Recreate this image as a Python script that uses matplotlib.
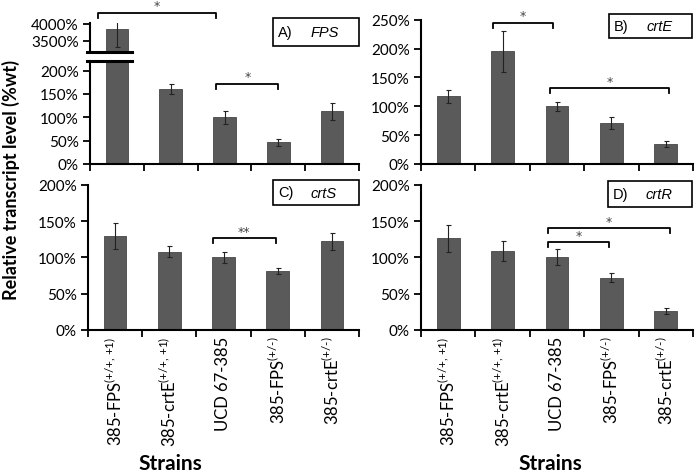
import numpy as np
import matplotlib.pyplot as plt
from matplotlib.patches import Rectangle
import matplotlib.transforms as mtransforms

plt.rcParams['font.family'] = ['Lato', 'DejaVu Sans']
plt.rcParams['mathtext.fontset'] = 'custom'
plt.rcParams['mathtext.rm'] = 'Lato'
plt.rcParams['mathtext.it'] = 'Lato:italic'

# data
strains = ['385-FPS$^{\\text{(+/+, +1)}}$', '385-crtE$^{\\text{(+/+, +1)}}$',
           'UCD 67-385', '385-FPS$^{\\text{(+/-)}}$', '385-crtE$^{\\text{(+/-)}}$']

fps_mean = [3850, 160, 100, 46, 113]
fps_err = [530, 11, 14, 7, 18]

crte_mean = [117, 195, 100, 71, 34]
crte_err = [11, 35, 8, 10, 5]

crts_mean = [129, 108, 100, 81, 122]
crts_err = [18, 7, 8, 4, 12]

crtr_mean = [126, 109, 100, 72, 26]
crtr_err = [19, 14, 11, 6, 4]

# significance brackets: (x start, x end, height, label)
fps_sig = [(-0.35, 1.85, 4330, '*'), (1.85, 3.0, 172, '*')]
crte_sig = [(0.82, 1.93, 245, '*'), (1.87, 4.06, 131, '*')]
crts_sig = [(1.80, 2.97, 126, '**')]
crtr_sig = [(1.83, 2.96, 121, '*'), (1.83, 4.08, 140, '*')]

W, H = 699, 477
fig = plt.figure(figsize=(W / 100, H / 100), dpi=100)


def px_rect(l, r, b, t):
    return [l / W, 1 - b / H, (r - l) / W, (b - t) / H]


BAR = '#5a5a5a'


def setup(ax, ymax, step, labels=False):
    x = np.arange(len(strains))
    ax.set_xlim(-0.5, len(strains) - 0.5)
    ax.set_ylim(0, ymax)
    ax.set_yticks(np.arange(0, ymax + 1, step))
    ax.yaxis.set_major_formatter(lambda v, p: '%d%%' % v)
    for s in ['top', 'right']:
        ax.spines[s].set_visible(False)
    for s in ['left', 'bottom']:
        ax.spines[s].set_linewidth(1.5)
    ax.tick_params(axis='y', length=5, width=1.3, labelsize=11, pad=3)
    ax.set_xticks(x)
    ax.set_xticks(np.arange(-0.5, len(strains)), minor=True)
    ax.tick_params(axis='x', which='major', length=0, pad=4)
    ax.tick_params(axis='x', which='minor', length=5, width=1.3)
    if labels:
        ax.set_xticklabels(strains, rotation=90, fontsize=12, va='top')
    else:
        ax.set_xticklabels([])


def bars(ax, mean, err):
    x = np.arange(len(mean))
    ax.bar(x, mean, width=0.42, color=BAR, edgecolor='#474747', linewidth=0.6)
    ax.errorbar(x, mean, yerr=err, fmt='none', ecolor='#222222',
                elinewidth=0.8, capsize=1.8, capthick=0.8)


def brackets(ax, sig):
    ax_h = ax.get_position().height * H
    lo, hi = ax.get_ylim()
    tick = 5 / ax_h * (hi - lo)
    for x1, x2, y, lab in sig:
        ax.plot([x1, x1, x2, x2], [y - tick, y, y, y - tick], color='black',
                lw=1.3, clip_on=False)
        ax.text((x1 + x2) / 2, y + tick * 0.1, lab, ha='center', va='bottom',
                fontsize=9, color='#444444', family='DejaVu Sans',
                clip_on=False)


def label_box(l, r, t, b, tag, gene):
    fig.add_artist(Rectangle((l / W, 1 - b / H), (r - l) / W, (b - t) / H,
                             transform=fig.transFigure, fill=False,
                             edgecolor='black', lw=1.2))
    yc = 1 - (t + b) / 2 / H
    fig.text((l + 5) / W, yc, tag, ha='left', va='center', fontsize=10.5,
             family='Liberation Sans')
    fig.text((l + 38) / W, yc, gene, ha='left', va='center', fontsize=10.5,
             family='Liberation Sans', style='italic')


# panel A, broken axis
axA = fig.add_axes(px_rect(90, 359, 165, 61.7))
setup(axA, 221, 50)
axA.set_yticks(np.arange(0, 201, 50))
bars(axA, fps_mean, fps_err)
brackets(axA, fps_sig[1:])

axA2 = fig.add_axes(px_rect(90, 359, 52, 24.3))
axA2.set_xlim(-0.5, len(strains) - 0.5)
axA2.set_ylim(3200, 4020)
axA2.set_yticks([3500, 4000])
axA2.yaxis.set_major_formatter(lambda v, p: '%d%%' % v)
for s in ['top', 'right', 'bottom']:
    axA2.spines[s].set_visible(False)
axA2.spines['left'].set_linewidth(1.5)
axA2.tick_params(axis='y', length=5, width=1.3, labelsize=11, pad=3)
axA2.set_xticks([])
bars(axA2, fps_mean, fps_err)
brackets(axA2, fps_sig[:1])

# break marks across the first bar
tr2 = mtransforms.blended_transform_factory(axA2.transData, axA2.transAxes)
trA = mtransforms.blended_transform_factory(axA.transData, axA.transAxes)
axA2.plot([-0.55, 0.28], [-0.02, -0.02], color='black', lw=2.2,
          transform=tr2, clip_on=False)
axA.plot([-0.55, 0.28], [1.0, 1.0], color='black', lw=2.2,
         transform=trA, clip_on=False)

# panel B
axB = fig.add_axes(px_rect(421, 693, 165, 20.7))
setup(axB, 250, 50)
bars(axB, crte_mean, crte_err)
brackets(axB, crte_sig)

# panel C
axC = fig.add_axes(px_rect(88, 359, 331, 185.7))
setup(axC, 200, 50, labels=True)
bars(axC, crts_mean, crts_err)
brackets(axC, crts_sig)

# panel D
axD = fig.add_axes(px_rect(421, 693, 331, 185.7))
setup(axD, 200, 50, labels=True)
bars(axD, crtr_mean, crtr_err)
brackets(axD, crtr_sig)

label_box(273, 359, 19.3, 47, 'A)', 'FPS')
label_box(609, 692, 15, 39, 'B)', 'crtE')
label_box(273, 359, 181, 206, 'C)', 'crtS')
label_box(608, 692, 182, 208, 'D)', 'crtR')

fig.text(11 / W, 1 - 180 / H, 'Relative transcript level (%wt)', rotation=90,
         ha='center', va='center', fontsize=13, fontweight='bold')
fig.text(170 / W, 1 - 464 / H, 'Strains', ha='center', va='center',
         fontsize=15, fontweight='bold')
fig.text(550 / W, 1 - 464 / H, 'Strains', ha='center', va='center',
         fontsize=15, fontweight='bold')

fig.savefig('out.png', dpi=100)
